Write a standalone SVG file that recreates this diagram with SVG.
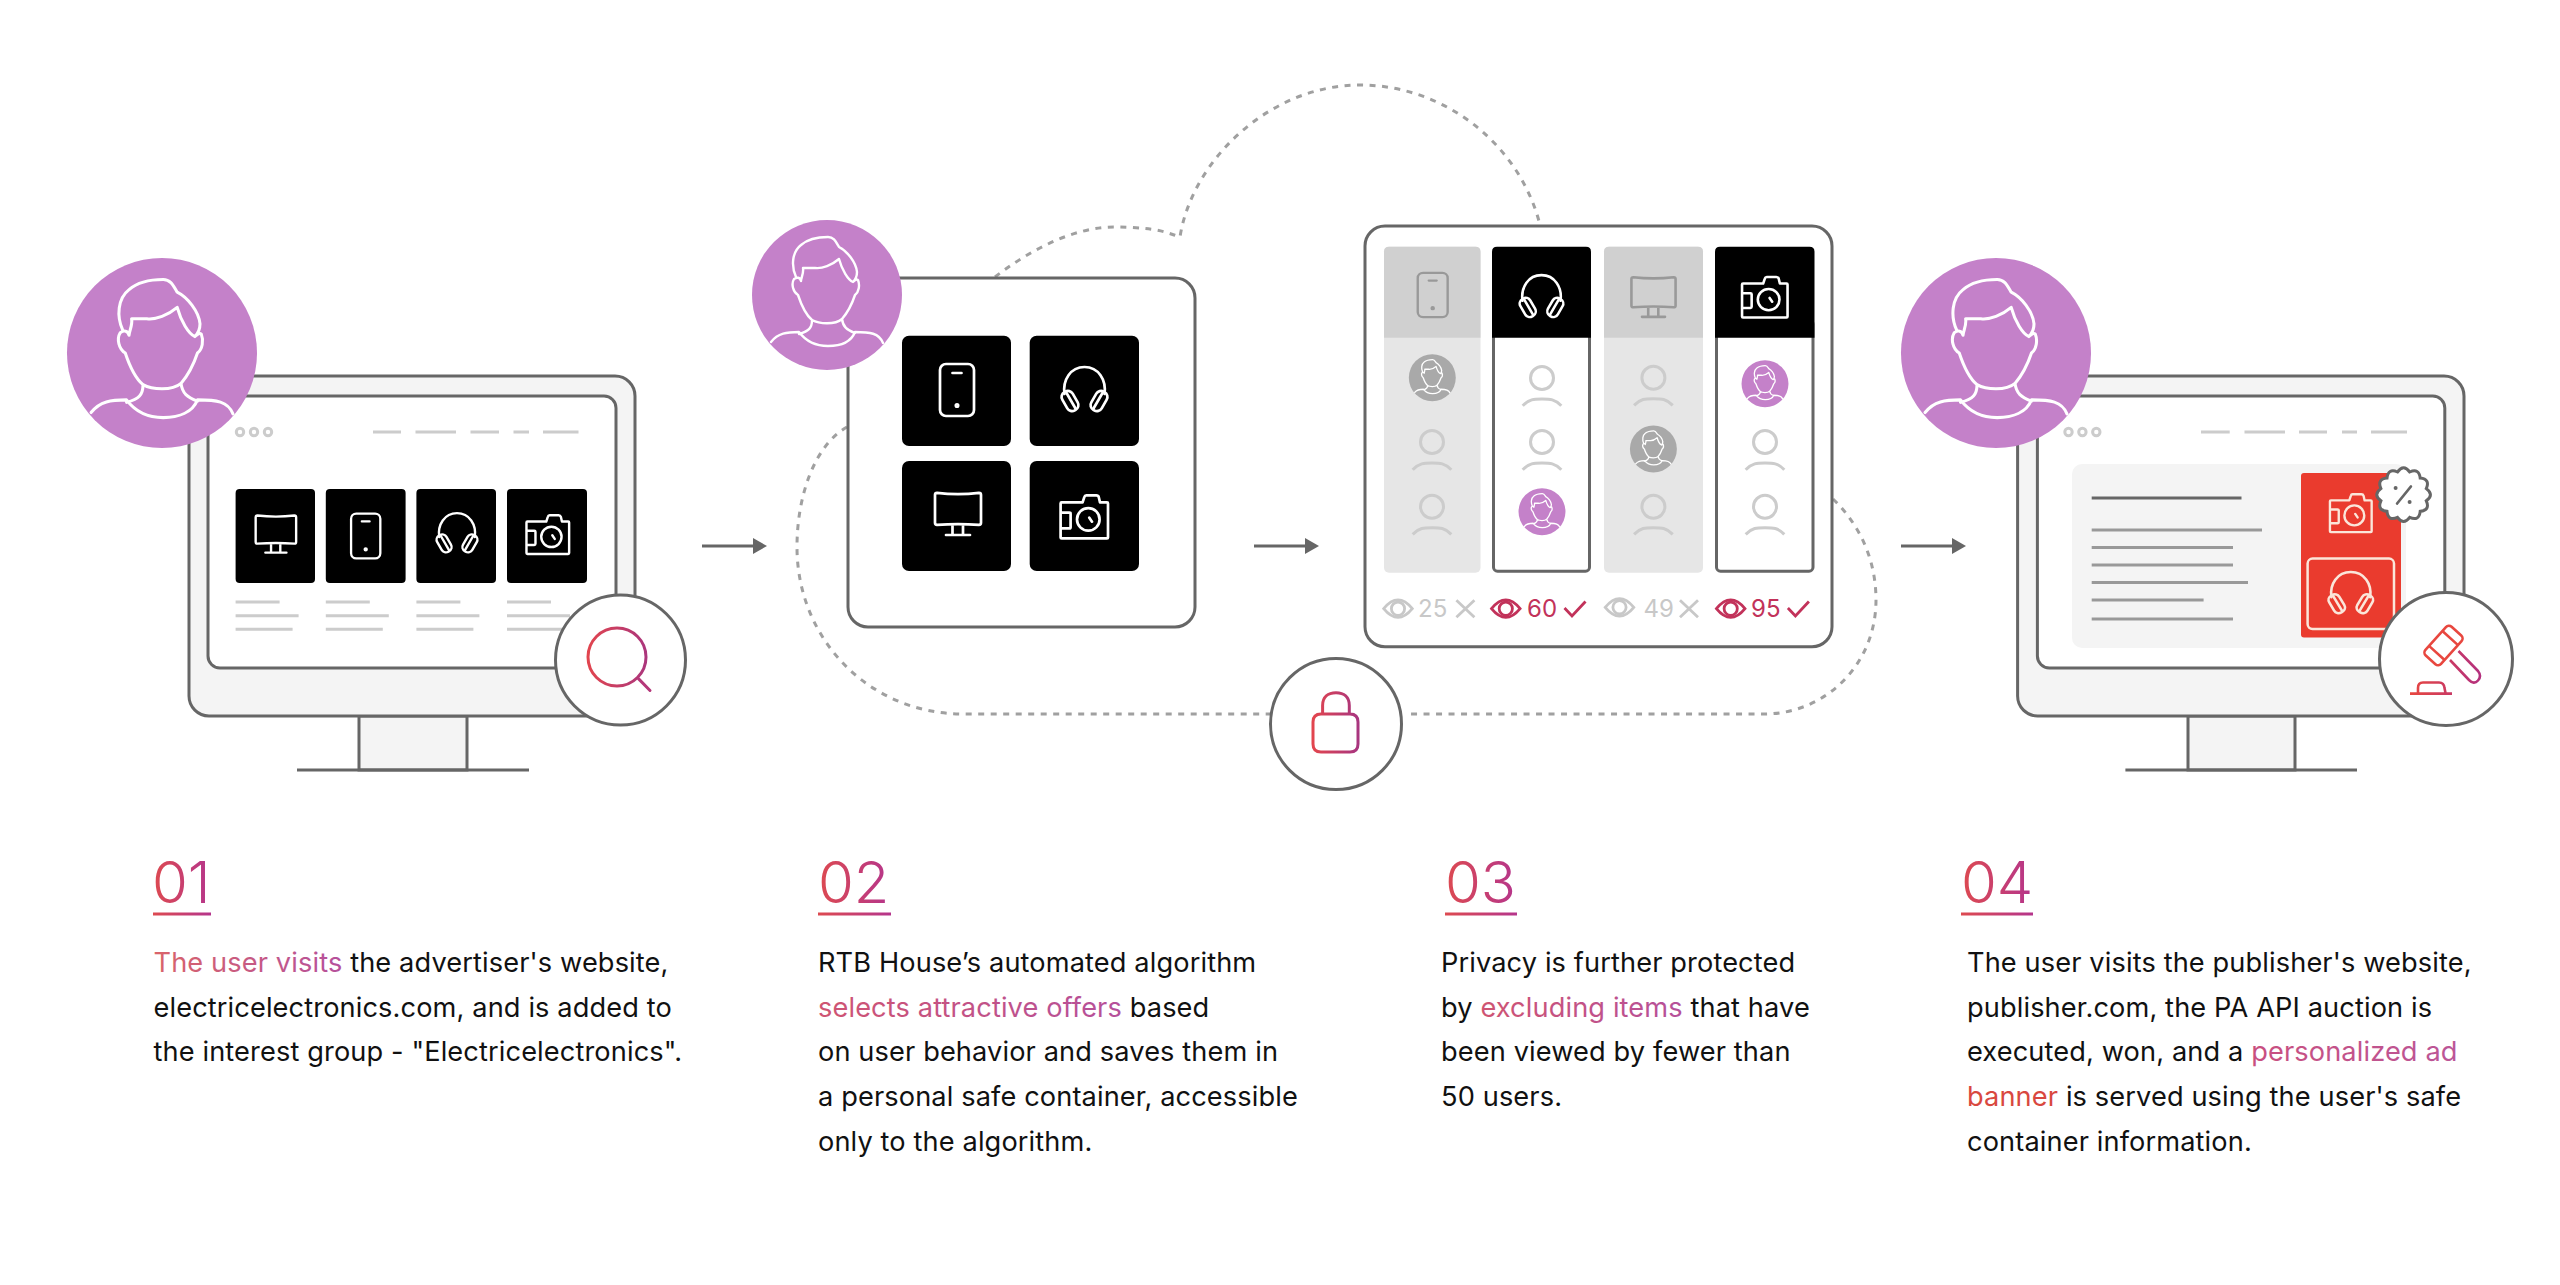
<svg xmlns="http://www.w3.org/2000/svg" xmlns:xlink="http://www.w3.org/1999/xlink" width="2560" height="1285" viewBox="0 0 2560 1285">
<style>
.body{font-family:Inter,"Liberation Sans",sans-serif;font-size:27.2px;fill:#111;letter-spacing:.12px}
.num{font-family:Inter,"Liberation Sans",sans-serif;font-size:58px;font-weight:350}
.score{font-family:Inter,"Liberation Sans",sans-serif;font-size:24px}
.frame{fill:#f4f4f4;stroke:#666;stroke-width:3}
.screen{fill:#fff;stroke:#666;stroke-width:3}
.box{fill:#fff;stroke:#666;stroke-width:3}
.base{fill:none;stroke:#666;stroke-width:3}
.pale{fill:none;stroke:#ccc;stroke-width:3}
.dark{fill:#000}
.ico{fill:none;stroke-linecap:round;stroke-linejoin:round;stroke-width:2.7}
.w{stroke:#fff}.g{stroke:#999}.c{stroke:#fbe6da}
.dash{fill:none;stroke:#a0a0a0;stroke-width:3;stroke-dasharray:6 6.5}
.badge{fill:#fff;stroke:#666;stroke-width:3}
</style>
<defs>
<linearGradient id="gMag" gradientUnits="userSpaceOnUse" x1="587" y1="0" x2="650" y2="0"><stop offset="0" stop-color="#e2454e"/><stop offset="1" stop-color="#a8357f"/></linearGradient>
<linearGradient id="gLock" gradientUnits="userSpaceOnUse" x1="1313" y1="0" x2="1358" y2="0"><stop offset="0" stop-color="#e2454e"/><stop offset="1" stop-color="#a8357f"/></linearGradient>
<linearGradient id="gGav" gradientUnits="userSpaceOnUse" x1="2410" y1="0" x2="2480" y2="0"><stop offset="0" stop-color="#e8473f"/><stop offset="1" stop-color="#b4307e"/></linearGradient>
<linearGradient id="n1" gradientUnits="userSpaceOnUse" x1="153" y1="0" x2="211" y2="0"><stop offset="0" stop-color="#dd4a50"/><stop offset="1" stop-color="#b5358c"/></linearGradient>
<linearGradient id="n2" gradientUnits="userSpaceOnUse" x1="818" y1="0" x2="891" y2="0"><stop offset="0" stop-color="#dd4a50"/><stop offset="1" stop-color="#b5358c"/></linearGradient>
<linearGradient id="n3" gradientUnits="userSpaceOnUse" x1="1445" y1="0" x2="1517" y2="0"><stop offset="0" stop-color="#dd4a50"/><stop offset="1" stop-color="#b5358c"/></linearGradient>
<linearGradient id="n4" gradientUnits="userSpaceOnUse" x1="1961" y1="0" x2="2033" y2="0"><stop offset="0" stop-color="#dd4a50"/><stop offset="1" stop-color="#b5358c"/></linearGradient>
<linearGradient id="t1" gradientUnits="userSpaceOnUse" x1="153" y1="0" x2="343" y2="0"><stop offset="0" stop-color="#d9646a"/><stop offset="1" stop-color="#b5509c"/></linearGradient>
<linearGradient id="t2" gradientUnits="userSpaceOnUse" x1="818" y1="0" x2="1128" y2="0"><stop offset="0" stop-color="#cf5472"/><stop offset="1" stop-color="#b5509c"/></linearGradient>
<linearGradient id="t3" gradientUnits="userSpaceOnUse" x1="1480" y1="0" x2="1690" y2="0"><stop offset="0" stop-color="#cf5472"/><stop offset="1" stop-color="#b5509c"/></linearGradient>
<linearGradient id="t4a" gradientUnits="userSpaceOnUse" x1="2252" y1="0" x2="2460" y2="0"><stop offset="0" stop-color="#c94f7f"/><stop offset="1" stop-color="#bb5698"/></linearGradient>
<marker id="arrow" markerUnits="userSpaceOnUse" markerWidth="14" markerHeight="16" refX="0" refY="8" orient="auto"><path d="M0,0L14,8L0,16Z" fill="#666"/></marker>
<g id="person">
<circle r="75" fill="currentColor"/>
<path fill="none" stroke="#fff" stroke-linecap="round" stroke-linejoin="round" d="M-31,-18C-36,-29 -35,-43 -26,-50C-18,-57 -8,-58 1,-58C7,-58 9,-53 12,-48C20,-44 29,-33 30,-23C30,-19 29,-16 26,-13C21,-15 15,-25 12,-36C5,-30 -5,-26 -12,-27C-16,-27 -20,-27 -24,-27C-23,-22 -26,-17 -26,-14C-27,-18 -30,-18 -33,-16C-36,-11 -34,-3 -29,0C-25,12 -21,20 -15,25C-8,29 8,30 15,24C21,17 25,9 28,0C32,-3 33,-10 31,-15C30,-16 28,-15 26,-13M-15,25C-15,33 -18,36 -28,39M15,24C16,32 20,35 28,38M-56,47C-49,38 -40,37 -28,37C-19,49 -8,51 1,51C13,51 24,47 28,37C43,37 52,38 56,48"/>
</g>
<g id="phone"><rect x="-17" y="-26" width="34" height="52" rx="6"/><path d="M-4.5,-17H4.5"/><circle cy="15.5" r="1.2"/></g>
<g id="phones"><path d="M-20,4C-22,-10 -14,-23 0,-23C14,-23 22,-10 20,4"/><g transform="translate(-14.5,11) rotate(-30)"><rect x="-6" y="-10.5" width="12" height="21" rx="5.5"/><path d="M1,-9V9"/></g><g transform="translate(14.5,11) rotate(30)"><rect x="-6" y="-10.5" width="12" height="21" rx="5.5"/><path d="M-1,-9V9"/></g></g>
<g id="monitor"><path d="M-21,-21.5Q0,-19 21,-21.5Q23,-21.5 23,-19.5V8.5Q23,10.5 21,10.5Q0,9 -21,10.5Q-23,10.5 -23,8.5V-19.5Q-23,-21.5 -21,-21.5ZM-5.5,10.5V20.5M5,10.5V20.5M-12,20.7H12"/></g>
<g id="camera"><path d="M-22.7,-14.3H-1.7L0,-19.5Q.5,-21.3 2,-21.3H12Q14,-21.3 14.5,-19.5L15.7,-14.3H22.7Q23.7,-14.3 23.7,-13.3V20.7Q23.7,21.7 22.7,21.7H-22.7Q-23.7,21.7 -23.7,20.7V-13.3Q-23.7,-14.3 -22.7,-14.3ZM-23.7,-4H-15Q-13.7,-4 -13.7,-3V10.5Q-13.7,11.7 -15,11.7H-23.7M5,1L7.7,5"/><circle cx="4" cy="2.7" r="11.3"/></g>
<g id="slot"><circle r="11.5"/><path d="M-19.3,27.7C-13,21 -8,21 0,21C8,21 13,21 19.3,27.7"/></g>
<g id="eye"><path d="M-14.3,0Q0,-17.5 14.3,0Q0,17.5 -14.3,0Z"/><circle r="6.6"/></g>
<g id="cross"><path d="M-9,-8.5L9,8.5M9,-8.5L-9,8.5"/></g>
<g id="tick"><path d="M-10.5,-1L-3,7L10.5,-7.5"/></g>
<g id="copy3"><path d="M0,0H44M0,13.7H63M0,27.3H57"/></g>
</defs>
<rect width="2560" height="1285" fill="#fff"/>

<g id="connectors">
<path class="dash" d="M995,277C1030,250 1075,226 1117,227S1165,232 1180,237C1192,160 1270,85 1360,85C1445,85 1520,145 1540,225"/>
<path class="dash" d="M847,427C815,445 797,495 797,547C797,640 870,714 963,714H1270"/>
<path class="dash" d="M1833,499C1860,525 1876,560 1876,600C1876,665 1825,714 1764,714H1407"/>
<path class="base" marker-end="url(#arrow)" d="M702,546H753"/>
<path class="base" marker-end="url(#arrow)" d="M1254,546H1305"/>
<path class="base" marker-end="url(#arrow)" d="M1901,546H1952"/>
</g>

<g id="step1-monitor">
<path class="frame" d="M359,716H467V770H359Z"/>
<path class="base" d="M297,770H529"/>
<rect class="frame" x="189" y="376" width="446" height="340" rx="20"/>
<rect class="screen" x="208" y="396" width="408" height="272" rx="12"/>
<g class="pale" stroke-width="2.5"><circle cx="240" cy="432" r="3.7"/><circle cx="254" cy="432" r="3.7"/><circle cx="268" cy="432" r="3.7"/></g>
<path class="pale" d="M373,432H401M415.5,432H456M470.5,432H499M513.5,432H529M543,432H578.5"/>
<rect class="dark" x="235.6" y="489" width="79.4" height="94" rx="4"/>
<rect class="dark" x="325.8" y="489" width="79.8" height="94" rx="4"/>
<rect class="dark" x="416.4" y="489" width="79.6" height="94" rx="4"/>
<rect class="dark" x="507" y="489" width="80" height="94" rx="4"/>
<use href="#monitor" class="ico w" transform="translate(275.9,534.4) scale(.88)"/>
<use href="#phone" class="ico w" transform="translate(365.7,536) scale(.86)"/>
<use href="#phones" class="ico w" transform="translate(457,533.6) scale(.89)"/>
<use href="#camera" class="ico w" transform="translate(547.8,534.4) scale(.9)"/>
<use href="#copy3" class="pale" x="235.6" y="602"/>
<use href="#copy3" class="pale" x="325.8" y="602"/>
<use href="#copy3" class="pale" x="416.4" y="602"/>
<use href="#copy3" class="pale" x="507" y="602"/>
</g>
<g id="step1-user"><use href="#person" color="#c481c9" stroke-width="2.4" transform="translate(162,353) scale(1.267)"/></g>
<g id="step1-search">
<circle class="box" cx="620.5" cy="660" r="65"/>
<circle cx="617" cy="657" r="29" fill="none" stroke="url(#gMag)" stroke-width="3"/>
<path d="M638.4,678.6L650,690.5" fill="none" stroke="#b5387a" stroke-width="3" stroke-linecap="round"/>
</g>

<g id="step2-container">
<rect class="box" x="848" y="278" width="347" height="349" rx="20"/>
<rect class="dark" x="902" y="335.7" width="109" height="110.3" rx="7"/>
<rect class="dark" x="1029.7" y="335.7" width="109.3" height="110.3" rx="7"/>
<rect class="dark" x="902" y="461" width="109" height="110" rx="7"/>
<rect class="dark" x="1029.7" y="461" width="109.3" height="110" rx="7"/>
<use href="#phone" class="ico w" transform="translate(957,390)"/>
<use href="#phones" class="ico w" transform="translate(1084.5,390)"/>
<use href="#monitor" class="ico w" transform="translate(958,514.3)"/>
<use href="#camera" class="ico w" transform="translate(1084.3,516.7)"/>
</g>
<g id="step2-user"><use href="#person" color="#c481c9" stroke-width="2.4" transform="translate(827,295)"/></g>
<g id="step2-lock">
<circle class="box" cx="1336" cy="724" r="65.5"/>
<path d="M1322.6,714V705.5C1322.6,697 1328,692.7 1336,692.7S1349.3,697 1349.3,705.5V714M1321,714H1350Q1358,714 1358,722V744Q1358,752 1350,752H1321Q1313,752 1313,744V722Q1313,714 1321,714Z" fill="none" stroke="url(#gLock)" stroke-width="3"/>
</g>

<g id="step3-panel">
<rect class="box" x="1365" y="226" width="467" height="420.7" rx="20"/>
<g id="col1">
<rect x="1384" y="246.7" width="96.5" height="326" rx="5" fill="#e6e6e6"/>
<path d="M1384,337.7V251.7Q1384,246.7 1389,246.7H1475.5Q1480.5,246.7 1480.5,251.7V337.7Z" fill="#d0d0d0"/>
<use href="#phone" class="ico g" transform="translate(1432.7,295) scale(.88,.85)"/>
<use href="#person" color="#a9a9a9" stroke-width="4.2" transform="translate(1432.3,377.7) scale(.313)"/>
<use href="#slot" class="pale" x="1432" y="442"/>
<use href="#slot" class="pale" x="1432" y="506.7"/>
</g>
<g id="col2">
<rect class="box" x="1493.5" y="320" width="96" height="251.2" rx="4"/>
<path d="M1492,337.7V251.7Q1492,246.7 1497,246.7H1586Q1591,246.7 1591,251.7V337.7Z" fill="#000"/>
<use href="#phones" class="ico w" transform="translate(1541.5,297) scale(.95)"/>
<use href="#slot" class="pale" x="1542" y="378"/>
<use href="#slot" class="pale" x="1542" y="442"/>
<use href="#person" color="#c481c9" stroke-width="4.2" transform="translate(1542,511.7) scale(.313)"/>
</g>
<g id="col3">
<rect x="1604" y="246.7" width="99" height="326" rx="5" fill="#e6e6e6"/>
<path d="M1604,337.7V251.7Q1604,246.7 1609,246.7H1698Q1703,246.7 1703,251.7V337.7Z" fill="#d0d0d0"/>
<use href="#monitor" class="ico g" transform="translate(1653.5,297.4) scale(.96,.94)"/>
<use href="#slot" class="pale" x="1653.4" y="377.7"/>
<use href="#person" color="#a9a9a9" stroke-width="4.2" transform="translate(1653.4,449) scale(.313)"/>
<use href="#slot" class="pale" x="1653.4" y="506.7"/>
</g>
<g id="col4">
<rect class="box" x="1716.5" y="320" width="96.5" height="251.2" rx="4"/>
<path d="M1715,337.7V251.7Q1715,246.7 1720,246.7H1809.5Q1814.5,246.7 1814.5,251.7V337.7Z" fill="#000"/>
<use href="#camera" class="ico w" transform="translate(1764.8,297) scale(.96,.94)"/>
<use href="#person" color="#c481c9" stroke-width="4.2" transform="translate(1765,383.7) scale(.313)"/>
<use href="#slot" class="pale" x="1765" y="442"/>
<use href="#slot" class="pale" x="1765" y="506.7"/>
</g>
<g id="scores">
<g fill="none" stroke="#c8c8c8" stroke-width="2.8"><use href="#eye" x="1398" y="608.7"/><use href="#cross" x="1465.4" y="608.8"/><use href="#eye" x="1619.5" y="607.3"/><use href="#cross" x="1689" y="608.8"/></g>
<g fill="none" stroke="#c2325a" stroke-width="2.8"><use href="#eye" x="1505.8" y="608.7"/><use href="#tick" x="1575" y="609"/><use href="#eye" x="1730.7" y="608.7"/><use href="#tick" x="1798.4" y="609"/></g>
<text class="score" x="1418" y="617" fill="#c8c8c8">25</text>
<text class="score" x="1527" y="617" fill="#c2325a">60</text>
<text class="score" x="1643.5" y="616.5" fill="#c8c8c8">49</text>
<text class="score" x="1751" y="617" fill="#c2325a">95</text>
</g>
</g>

<g id="step4-monitor">
<path class="frame" d="M2188,716H2295V770H2188Z"/>
<path class="base" d="M2125.4,770H2357"/>
<rect class="frame" x="2017.6" y="376" width="446.4" height="340" rx="20"/>
<rect class="screen" x="2037.4" y="396" width="407.4" height="272" rx="12"/>
<g class="pale" stroke-width="2.5"><circle cx="2068.5" cy="432" r="3.7"/><circle cx="2082.4" cy="432" r="3.7"/><circle cx="2096.3" cy="432" r="3.7"/></g>
<path class="pale" d="M2201,432H2229.7M2244.5,432H2285M2299,432H2327M2342,432H2357M2371,432H2407"/>
<rect x="2072" y="464" width="334" height="184" rx="10" fill="#f4f4f4"/>
<path fill="none" stroke="#666" stroke-width="3" d="M2091.7,498H2241.5"/>
<path fill="none" stroke="#999" stroke-width="3" d="M2091.7,530H2262M2091.7,547.5H2233M2091.7,565H2233M2091.7,582.5H2248M2091.7,600H2203.6M2091.7,619H2233"/>
<rect x="2301" y="473" width="100" height="164.5" rx="3" fill="#ea3b2e"/>
<use href="#camera" class="ico c" transform="translate(2350.8,513) scale(.88)"/>
<rect x="2307.6" y="558.6" width="86.4" height="70.4" rx="5" fill="none" stroke="#fbe6da" stroke-width="2.5"/>
<use href="#phones" class="ico c" transform="translate(2350.8,593.5) scale(.97,.93)"/>
<g transform="translate(2403.6,494.7)">
<path class="badge" d="M22.7,-6.1Q31,0 22.7,6.1Q26.8,15.5 16.6,16.6Q15.5,26.8 6.1,22.7Q0,31 -6.1,22.7Q-15.5,26.8 -16.6,16.6Q-26.8,15.5 -22.7,6.1Q-31,0 -22.7,-6.1Q-26.8,-15.5 -16.6,-16.6Q-15.5,-26.8 -6.1,-22.7Q0,-31 6.1,-22.7Q15.5,-26.8 16.6,-16.6Q26.8,-15.5 22.7,-6.1Z"/>
<path d="M7.4,-8.3L-6.6,8.9" stroke="#666" stroke-width="2.5" fill="none" stroke-linecap="round"/>
<circle cx="-8" cy="-6.7" r="2" fill="#666"/><circle cx="6" cy="7.3" r="2" fill="#666"/>
</g>
</g>
<g id="step4-user"><use href="#person" color="#c481c9" stroke-width="2.4" transform="translate(1996,353) scale(1.267)"/></g>
<g id="step4-auction">
<circle class="box" cx="2446" cy="659" r="66.5"/>
<g fill="none" stroke="url(#gGav)" stroke-width="2.6" stroke-linejoin="round">
<g transform="translate(2443.5,645.5) rotate(42)"><rect x="-10.5" y="-19.3" width="21" height="38.6" rx="4"/><path d="M-10.5,-10H10.5M-10.5,10H10.5"/></g>
<path d="M2450,660L2469,680Q2474,685 2478,680.5Q2482,676 2478,671L2458.5,651"/>
<path d="M2418,693V688Q2418,682.5 2423,682.5H2439Q2444,682.5 2444.5,688L2445.5,693M2410,693.6H2452"/>
</g>
</g>

<g id="text-01">
<text class="num" x="152" y="903" fill="url(#n1)">01</text>
<rect x="153" y="912.5" width="58" height="3" fill="url(#n1)"/>
<text class="body" x="153.5" y="971.7"><tspan fill="url(#t1)">The user visits</tspan> the advertiser's website,</text>
<text class="body" x="153.5" y="1016.5">electricelectronics.com, and is added to</text>
<text class="body" x="153.5" y="1061.3">the interest group - "Electricelectronics".</text>
</g>
<g id="text-02">
<text class="num" x="818" y="903" fill="url(#n2)">02</text>
<rect x="818" y="912.5" width="73" height="3" fill="url(#n2)"/>
<text class="body" x="818" y="971.7">RTB House’s automated algorithm</text>
<text class="body" x="818" y="1016.5"><tspan fill="url(#t2)">selects attractive offers</tspan> based</text>
<text class="body" x="818" y="1061.3">on user behavior and saves them in</text>
<text class="body" x="818" y="1106.1">a personal safe container, accessible</text>
<text class="body" x="818" y="1150.9">only to the algorithm.</text>
</g>
<g id="text-03">
<text class="num" x="1445" y="903" fill="url(#n3)">03</text>
<rect x="1445" y="912.5" width="72" height="3" fill="url(#n3)"/>
<text class="body" x="1441" y="971.7">Privacy is further protected</text>
<text class="body" x="1441" y="1016.5">by <tspan fill="url(#t3)">excluding items</tspan> that have</text>
<text class="body" x="1441" y="1061.3">been viewed by fewer than</text>
<text class="body" x="1441" y="1106.1">50 users.</text>
</g>
<g id="text-04">
<text class="num" x="1961" y="903" fill="url(#n4)">04</text>
<rect x="1961" y="912.5" width="72" height="3" fill="url(#n4)"/>
<text class="body" x="1967" y="971.7">The user visits the publisher's website,</text>
<text class="body" x="1967" y="1016.5">publisher.com, the PA API auction is</text>
<text class="body" x="1967" y="1061.3">executed, won, and a <tspan fill="url(#t4a)">personalized ad</tspan></text>
<text class="body" x="1967" y="1106.1"><tspan fill="#d9483f">banner</tspan> is served using the user's safe</text>
<text class="body" x="1967" y="1150.9">container information.</text>
</g>
</svg>
